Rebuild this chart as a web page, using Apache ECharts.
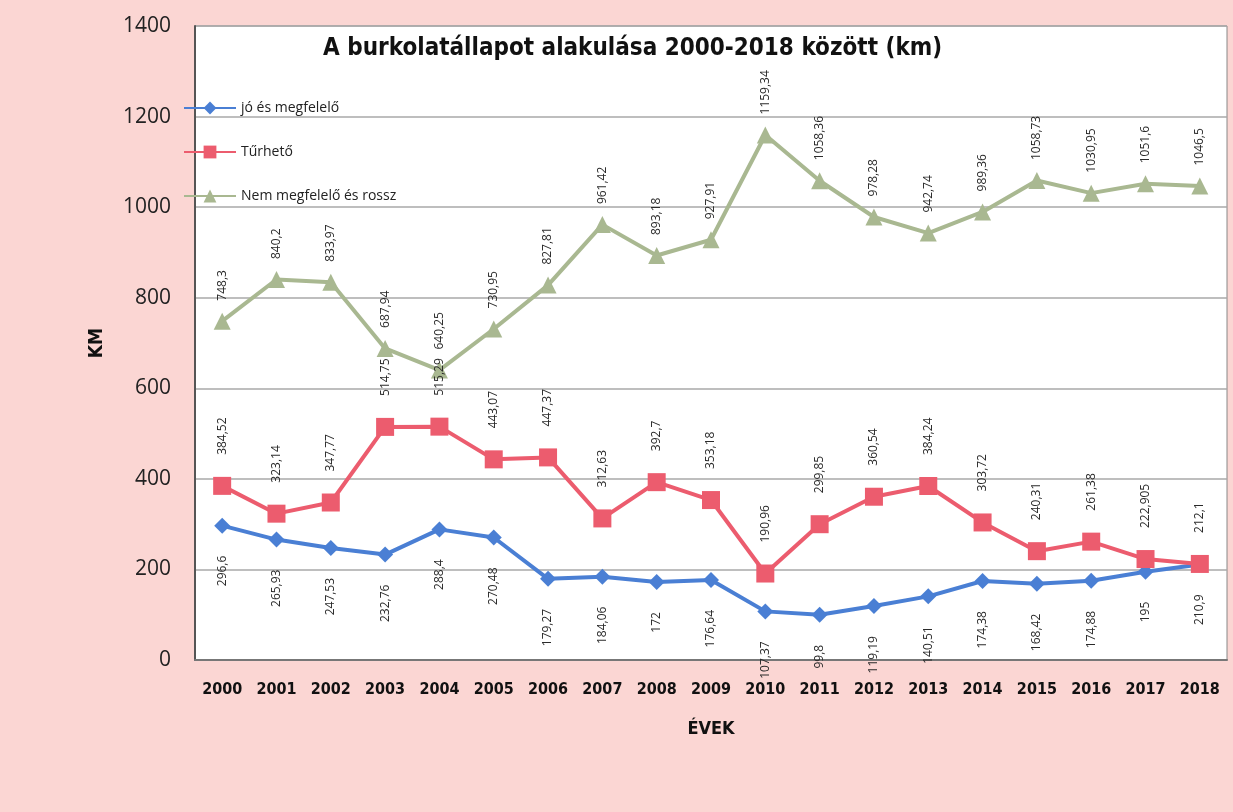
<!DOCTYPE html>
<html>
<head>
<meta charset="utf-8">
<script src="https://cdn.jsdelivr.net/npm/echarts@6/dist/echarts.min.js"></script>
<style>
  html, body { margin: 0; padding: 0; background: #fbd6d3; }
  #chart { width: 1233px; height: 812px; }
</style>
</head>
<body>
<div id="chart"></div>
<script>
// évek
const years = ['2000', '2001', '2002', '2003', '2004', '2005', '2006', '2007', '2008', '2009',
  '2010', '2011', '2012', '2013', '2014', '2015', '2016', '2017', '2018']
const joEsMegfelelo = [296.6, 265.93, 247.53, 232.76, 288.4, 270.48, 179.27, 184.06, 172, 176.64,
  107.37, 99.8, 119.19, 140.51, 174.38, 168.42, 174.88, 195, 210.9]
const turheto = [384.52, 323.14, 347.77, 514.75, 515.29, 443.07, 447.37, 312.63, 392.7, 353.18,
  190.96, 299.85, 360.54, 384.24, 303.72, 240.31, 261.38, 222.905, 212.1]
const nemMegfelelo = [748.3, 840.2, 833.97, 687.94, 640.25, 730.95, 827.81, 961.42, 893.18, 927.91,
  1159.34, 1058.36, 978.28, 942.74, 989.36, 1058.73, 1030.95, 1051.6, 1046.5]

const chart = echarts.init(document.getElementById('chart'))

// magyar tizedesvessző
const fmt = p => String(p.value).replace('.', ',')
const narrow = '"DejaVu Sans Condensed", "Liberation Sans", sans-serif'

function label (pos, dist) {
  return {
    show: true,
    position: pos,
    distance: dist,
    rotate: 90,
    align: pos === 'top' ? 'left' : 'right',
    verticalAlign: 'middle',
    color: '#2a2a2a',
    fontSize: 12,
    fontFamily: 'Open Sans',
    formatter: fmt
  }
}

const option = {
  backgroundColor: '#fbd6d3',
  title: {
    text: 'A burkolatállapot alakulása 2000-2018 között (km)',
    left: 318,
    top: 32,
    textStyle: { fontSize: 24, fontWeight: 'bold', color: '#111', fontFamily: narrow }
  },
  legend: {
    orient: 'vertical',
    left: 178,
    top: 96,
    itemGap: 30,
    itemWidth: 52,
    itemHeight: 16,
    textStyle: { fontSize: 14, color: '#222', fontFamily: 'Open Sans' },
    data: ['jó és megfelelő', 'Tűrhető', 'Nem megfelelő és rossz']
  },
  grid: {
    left: 195,
    right: 6,
    top: 26,
    bottom: 152,
    show: true,
    backgroundColor: '#ffffff',
    borderColor: '#888',
    borderWidth: 1
  },
  xAxis: {
    type: 'category',
    data: years,
    name: 'ÉVEK',
    nameLocation: 'middle',
    nameGap: 60,
    nameTextStyle: { fontSize: 18, fontWeight: 'bold', color: '#111', fontFamily: narrow },
    axisLine: { lineStyle: { color: '#777', width: 2 } },
    axisTick: { show: false },
    axisLabel: { fontSize: 16, fontWeight: 'bold', color: '#111', margin: 22, fontFamily: narrow }
  },
  yAxis: {
    type: 'value',
    min: 0,
    max: 1400,
    interval: 200,
    name: 'KM',
    nameLocation: 'middle',
    nameGap: 88,
    nameRotate: 90,
    nameTextStyle: { fontSize: 19, fontWeight: 'bold', color: '#111', fontFamily: narrow },
    axisLine: { show: true, lineStyle: { color: '#555', width: 2 } },
    axisTick: { show: false },
    splitLine: { lineStyle: { color: '#a8a8a8', width: 1.5 } },
    axisLabel: { fontSize: 21, color: '#222', margin: 24, fontFamily: 'Open Sans', formatter: v => String(v) }
  },
  series: [
    {
      name: 'jó és megfelelő',
      type: 'line',
      data: joEsMegfelelo,
      symbol: 'diamond',
      symbolSize: 16,
      lineStyle: { width: 4, color: '#4a7fd4' },
      itemStyle: { color: '#4a7fd4' },
      label: label('bottom', 22)
    },
    {
      name: 'Tűrhető',
      type: 'line',
      data: turheto,
      symbol: 'rect',
      symbolSize: 18,
      lineStyle: { width: 4, color: '#ec5c6e' },
      itemStyle: { color: '#ec5c6e' },
      label: label('top', 22)
    },
    {
      name: 'Nem megfelelő és rossz',
      type: 'line',
      data: nemMegfelelo,
      symbol: 'triangle',
      symbolSize: 17,
      lineStyle: { width: 4, color: '#a9b891' },
      itemStyle: { color: '#a9b891' },
      label: label('top', 12)
    }
  ]
}
chart.setOption(option)
</script>
</body>
</html>
